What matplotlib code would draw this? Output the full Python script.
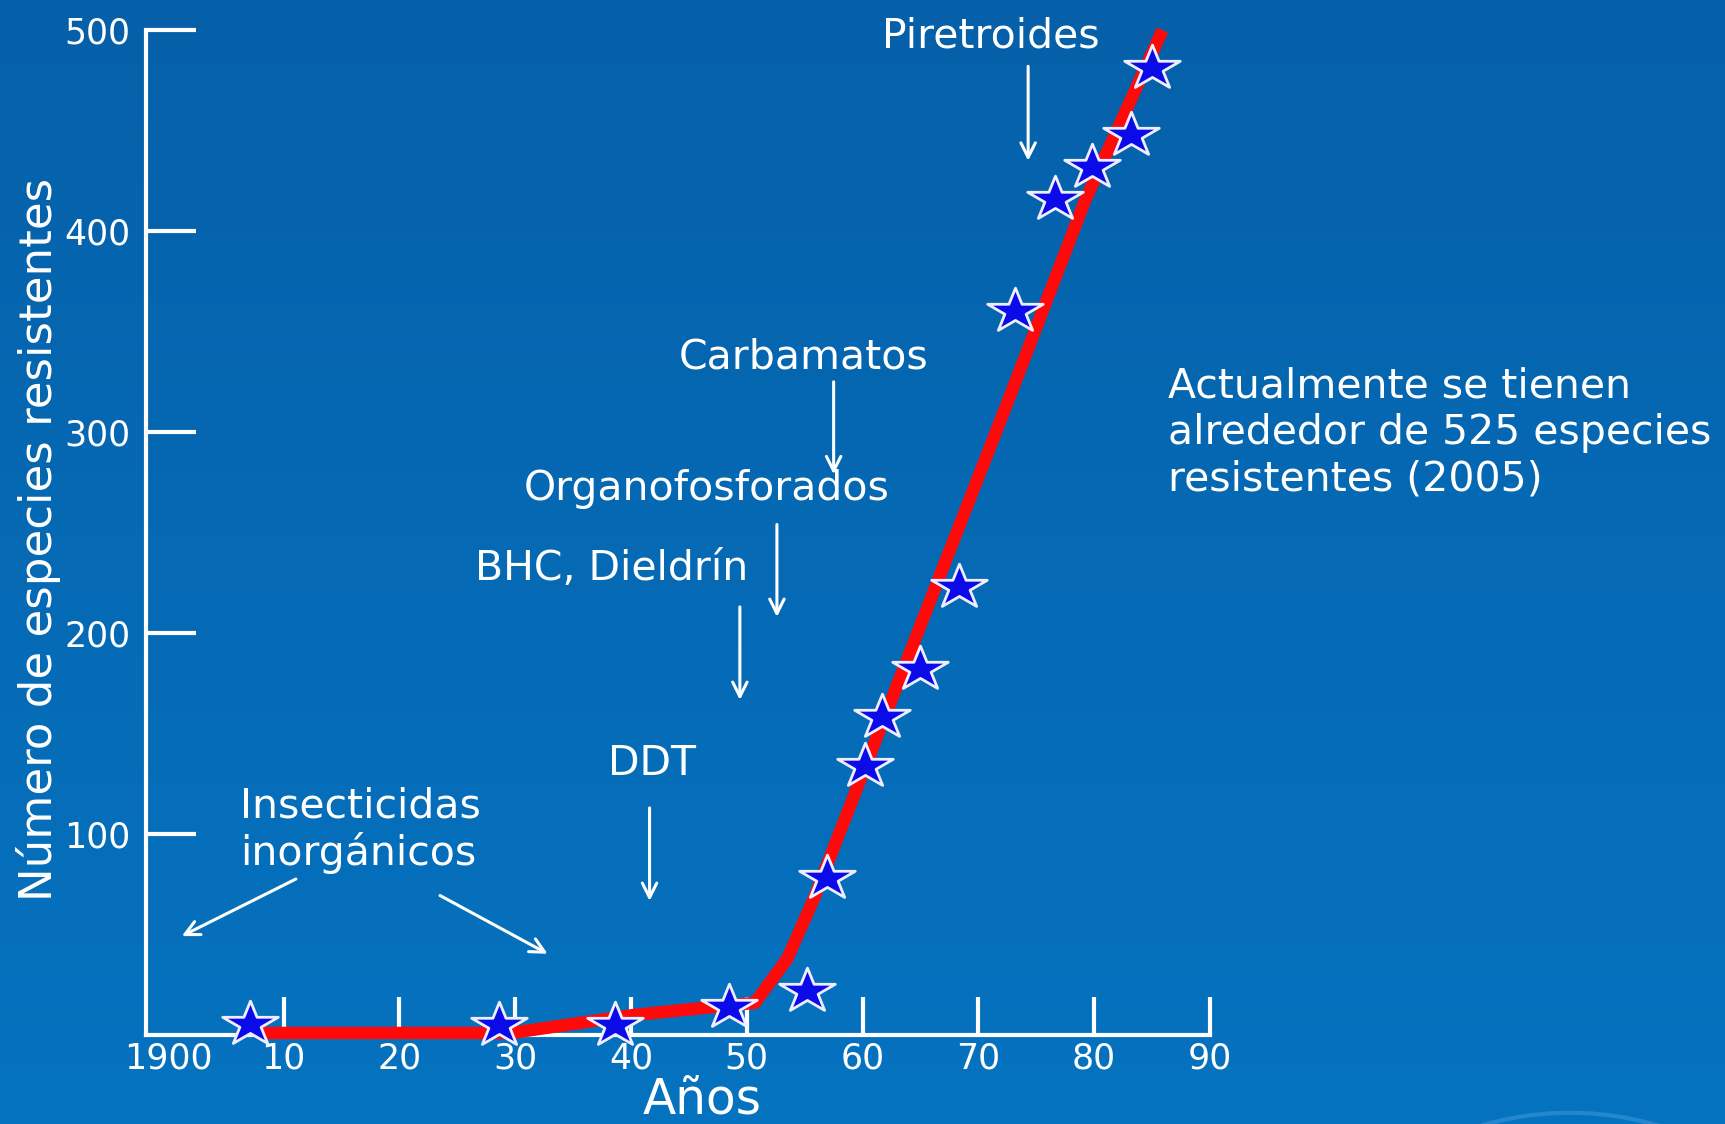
import numpy as np
import matplotlib
matplotlib.use("Agg")
import matplotlib.pyplot as plt
from matplotlib.path import Path
from matplotlib.patches import Arc
from matplotlib.colors import LinearSegmentedColormap

# registros (estrellas)
anos = [1907.1, 1928.6, 1938.6, 1948.5, 1955.2, 1956.9, 1960.2, 1961.7,
        1965.0, 1968.3, 1973.2, 1976.6, 1979.8, 1983.2, 1985.0]
especies = [5.5, 5, 5, 14, 22, 78, 134, 158, 182, 223, 360, 416, 432, 448, 481]

# tendencia (linea roja)
anos_tend = [1907.8, 1929.7, 1940.3, 1950.7, 1953.5, 1955.8, 1972.6, 1979.2, 1985.9]
especies_tend = [1, 1, 10, 16, 38, 68, 316, 415, 500]

xticks = [1900, 1910, 1920, 1930, 1940, 1950, 1960, 1970, 1980, 1990]
xtick_labels = ["1900", "10", "20", "30", "40", "50", "60", "70", "80", "90"]
yticks = [100, 200, 300, 400, 500]

fondo_sup = "#0560A9"
fondo_inf = "#0673C0"
blanco = "white"

fig = plt.figure(figsize=(17.25, 11.24), dpi=100)

# fondo degradado
bg = fig.add_axes([0, 0, 1, 1], zorder=-10)
grad = np.linspace(0, 1, 256).reshape(-1, 1)
cmap = LinearSegmentedColormap.from_list("fondo", [fondo_inf, fondo_sup])
bg.imshow(grad, aspect="auto", cmap=cmap, origin="lower", extent=[0, 1, 0, 1])
bg.add_patch(Arc((0.91, -0.33), 0.40, 0.68, theta1=64, theta2=116,
                 color="#3A94D8", lw=3, alpha=0.6))
bg.axis("off")

ax = fig.add_axes([0.0846, 0.0792, 0.6168, 0.894])
ax.patch.set_alpha(0)

# estrella ensanchada
ang = np.pi / 2 + np.arange(10) * np.pi / 5
rad = np.where(np.arange(10) % 2 == 0, 1.0, 0.382)
verts = np.column_stack([1.25 * rad * np.cos(ang), rad * np.sin(ang)])
verts = np.vstack([verts, verts[:1]])
codes = [Path.MOVETO] + [Path.LINETO] * 9 + [Path.CLOSEPOLY]
estrella = Path(verts, codes)

ax.plot(anos_tend, especies_tend, color="#FF0A0A", lw=9,
        solid_joinstyle="round", solid_capstyle="butt", zorder=3, clip_on=False)
ax.plot(anos, especies, ls="none", marker=estrella, ms=40, mfc="#0B0BEA",
        mec="#EEEEFF", mew=2.0, zorder=4, clip_on=False)

ax.set_xlim(1898.1, 1990)
ax.set_ylim(0, 500)
for s in ["top", "right"]:
    ax.spines[s].set_visible(False)
for s in ["left", "bottom"]:
    ax.spines[s].set_color(blanco)
    ax.spines[s].set_linewidth(3)

ax.set_xticks(xticks, xtick_labels)
ax.set_yticks(yticks)
ax.tick_params(axis="x", direction="in", length=27.5, width=3, colors=blanco,
               labelsize=25, pad=5)
ax.tick_params(axis="y", direction="in", length=36, width=3, colors=blanco,
               labelsize=25, pad=11)
ax.xaxis.get_major_ticks()[0].tick1line.set_visible(False)

txt = dict(color=blanco, fontsize=29.5)
ax.text(1906.2, 102, "Insecticidas\ninorgánicos", ha="left", va="center",
        linespacing=1.18, clip_on=False, **txt)
ax.text(1941.8, 135, "DDT", ha="center", va="center", **txt)
ax.text(1938.3, 231.7, "BHC, Dieldrín", ha="center", va="center", **txt)
ax.text(1946.5, 271.6, "Organofosforados", ha="center", va="center", **txt)
ax.text(1954.9, 337, "Carbamatos", ha="center", va="center", **txt)
ax.text(1971.1, 496.7, "Piretroides", ha="center", va="center", **txt)
ax.text(1986.4, 299.5, "Actualmente se tienen\nalrededor de 525 especies\nresistentes (2005)",
        ha="left", va="center", linespacing=1.2, clip_on=False, **txt)

flechas = [
    ((1911.05, 77.6), (1901.2, 49.2)),
    ((1923.5, 69.4), (1932.8, 40.4)),
    ((1941.6, 113), (1941.6, 66.7)),
    ((1949.4, 213), (1949.4, 166.7)),
    ((1952.6, 254), (1952.6, 208)),
    ((1957.5, 325), (1957.5, 279)),
    ((1974.3, 482), (1974.3, 435)),
]
for ini, fin in flechas:
    ax.annotate("", xy=fin, xytext=ini,
                arrowprops=dict(arrowstyle="->", color=blanco, lw=2.2,
                                mutation_scale=26, shrinkA=0, shrinkB=0))

fig.text(38.5 / 1725, 1 - 539 / 1124, "Número de especies resistentes",
         rotation=90, ha="center", va="center", color=blanco, fontsize=32.5)
fig.text(702 / 1725, 1 / 1124, "Años", ha="center", va="bottom",
         color=blanco, fontsize=35)

fig.savefig("out.png", dpi=100)
